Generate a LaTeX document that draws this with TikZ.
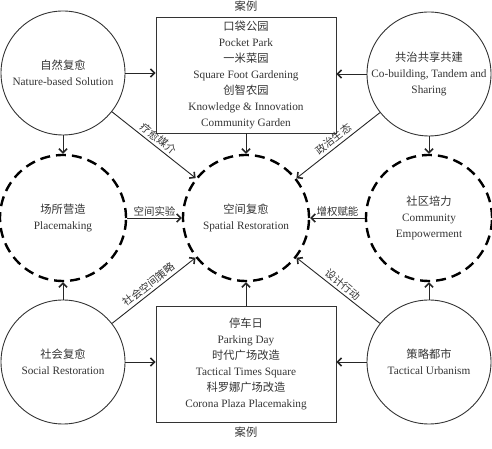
\documentclass[tikz,border=0pt]{standalone}
\usepackage{fontspec}
\setmainfont{Liberation Serif}
\newfontfamily\cjk{Noto Sans CJK SC}
\usetikzlibrary{arrows.meta}
\begin{document}
\begin{tikzpicture}[x=1bp,y=1bp,
  txt/.style={text=black!80, font=\fontsize{11.3}{16}\selectfont, align=center},
  solidc/.style={circle, draw=black!80, line width=0.9bp, minimum size=124bp, inner sep=0pt, txt},
  dashc/.style={circle, draw=black, line width=2.4bp, dash pattern=on 10bp off 6bp, minimum size=126bp, inner sep=0pt, txt},
  casebox/.style={draw=black!80, line width=0.9bp, minimum width=180bp, minimum height=116bp, inner sep=0pt, txt},
  arr/.style={draw=black!85, line width=0.9bp, -{Straight Barb[length=4bp,width=8bp,line width=1.6bp]}},
  lab/.style={text=black!80, font=\cjk\fontsize{10.5}{12}\selectfont, inner sep=1.5bp},
  slab/.style={lab, sloped, above, midway, inner sep=2.5bp}
]
\useasboundingbox (0,0) rectangle (492,449);

% solid circles
\node[solidc] (A) at (63,376) {{\cjk 自然复愈}\\Nature-based Solution};
\node[solidc] (B) at (429,375) {{\cjk 共治共享共建}\\Co-building, Tandem and\\Sharing};
\node[solidc] (D) at (63,87) {{\cjk 社会复愈}\\Social Restoration};
\node[solidc] (T) at (429,87) {{\cjk 策略都市}\\Tactical Urbanism};

% dashed circles
\node[dashc] (P) at (63,231) {{\cjk 场所营造}\\Placemaking};
\node[dashc] (S) at (246,231) {{\cjk 空间复愈}\\Spatial Restoration};
\node[dashc] (C) at (429,231) {{\cjk 社区培力}\\Community\\Empowerment};

% case boxes
\node[casebox] (TB) at (246,374) {{\cjk 口袋公园}\\Pocket Park\\{\cjk 一米菜园}\\Square Foot Gardening\\{\cjk 创智农园}\\Knowledge \& Innovation\\Community Garden};
\node[casebox] (BB) at (246,85) {{\cjk 停车日}\\Parking Day\\{\cjk 时代广场改造}\\Tactical Times Square\\{\cjk 科罗娜广场改造}\\Corona Plaza Placemaking};
\node[lab, font=\cjk\fontsize{11.3}{12}\selectfont] (TBL) at (246,443) {案例};
\node[lab, font=\cjk\fontsize{11.3}{12}\selectfont] (BBL) at (246,17) {案例};

% arrows to boxes
\draw[arr] (A.east) -- (A.east -| TB.west);
\draw[arr] (B.west) -- (B.west -| TB.east);
\draw[arr] (D.east) -- (D.east -| BB.west);
\draw[arr] (T.west) -- (T.west -| BB.east);

% vertical arrows
\draw[arr] (A) -- (P);
\draw[arr] (B) -- (C);
\draw[arr] (D) -- (P);
\draw[arr] (T) -- (C);
\draw[arr] (TB) -- (S);
\draw[arr] (BB) -- (S);

% arrows into the centre
\draw[arr] (A) -- node[slab] (L1) {疗愈媒介} (S);
\draw[arr] (B) -- node[slab] (L2) {政治生态} (S);
\draw[arr] (D) -- node[slab] (L3) {社会空间策略} (S);
\draw[arr] (T) -- node[slab] (L4) {设计行动} (S);
\draw[arr] (P) -- node[lab, above, midway] (L5) {空间实验} (S);
\draw[arr] (C) -- node[lab, above, midway] (L6) {增权赋能} (S);
\end{tikzpicture}
\end{document}
